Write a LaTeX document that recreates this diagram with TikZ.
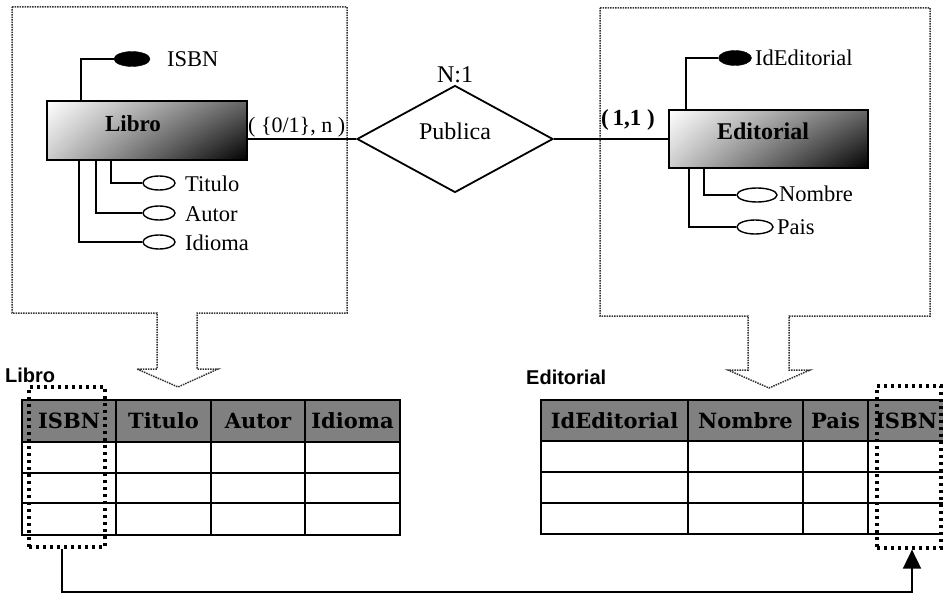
\documentclass[tikz,border=0pt]{standalone}
\usepackage{fontspec}
\setmainfont{Liberation Serif}
\setsansfont{Liberation Sans}
\newfontfamily\hdrfont{DejaVu Serif}
\usetikzlibrary{shapes.geometric,arrows.meta,shadings}
\tikzset{
  solidln/.style={line width=1.8pt},
  container/.style={line width=1.5pt, dash pattern=on 1.5pt off 1pt, black!80},
  entity/.style={draw, line width=1.8pt, shade, upper left=white, upper right=black!60,
                 lower left=black!20, lower right=black, inner sep=0pt},
  entlabel/.style={font=\fontsize{23}{23}\selectfont\bfseries, inner sep=0pt},
  keyattr/.style={ellipse, draw, fill=black, minimum width=36pt, minimum height=15pt, inner sep=0pt},
  attr/.style={ellipse, draw, line width=1.4pt, minimum width=32pt, minimum height=14pt, inner sep=0pt},
  attrtxt/.style={anchor=west, font=\fontsize{22.5}{22.5}\selectfont, inner sep=0pt},
  hdr/.style={draw, line width=1.8pt, fill=black!50, inner sep=0pt,
              font=\hdrfont\fontsize{21}{21}\selectfont\bfseries},
  tlabel/.style={font=\sffamily\fontsize{20}{20}\selectfont\bfseries, anchor=base west, inner sep=0pt},
  fkbox/.style={line width=3.2pt, dash pattern=on 3pt off 4pt, inner sep=0pt},
}
\begin{document}
\begin{tikzpicture}[x=1pt,y=-1pt]
\useasboundingbox (0,0) rectangle (943,594);
\begin{scope}
\clip (0,0) rectangle (943,594);

% containers with down arrows
\draw[container] (12,7) -- (347,7) -- (347,313) -- (197,313) -- (197,369) -- (218,369)
  -- (178,387) -- (137,369) -- (157,369) -- (157,313) -- (12,313) -- cycle;
\draw[container] (600,8) -- (930,8) -- (930,316) -- (789,316) -- (789,370) -- (810,370)
  -- (769,388) -- (728,370) -- (748,370) -- (748,316) -- (600,316) -- cycle;

% Libro entity
\node[entity, minimum width=200pt, minimum height=59pt] (libro) at (147,130.5) {};
\node[entlabel] (libroT) at (133,124) {Libro};
\node[keyattr] (isbnE) at (132,59) {};
\node[attrtxt] (isbnL) at (167,59) {ISBN};
\node[attr] (titE) at (159,183) {};
\node[attrtxt] (titL) at (185,184) {Titulo};
\node[attr] (autE) at (159,213) {};
\node[attrtxt] (autL) at (185,214) {Autor};
\node[attr] (idiE) at (159,242) {};
\node[attrtxt] (idiL) at (185,243) {Idioma};
\draw[solidln] ([xshift=35pt]libro.north west) |- (isbnE.west);
\draw[solidln] ([xshift=65pt]libro.south west) |- (titE.west);
\draw[solidln] ([xshift=50pt]libro.south west) |- (autE.west);
\draw[solidln] ([xshift=33pt]libro.south west) |- (idiE.west);

% relationship
\node[diamond, draw, line width=1.8pt, minimum width=196pt, minimum height=107pt, inner sep=0pt] (pub) at (455,139) {};
\node[font=\fontsize{24}{24}\selectfont, inner sep=0pt] (pubT) at (455,131) {Publica};
\node[font=\fontsize{24}{24}\selectfont, inner sep=0pt] (card) at (455,75) {N:1};
\node[font=\fontsize{22}{22}\selectfont, inner sep=0pt, anchor=west] (c1) at (248,127) {( \{0/1\}, n )};
\node[font=\fontsize{23}{23}\selectfont\bfseries, inner sep=0pt, anchor=west] (c2) at (601,120) {(\,1,1 )};

% Editorial entity
\node[entity, minimum width=199pt, minimum height=58pt] (edit) at (768.5,139) {};
\node[entlabel, font=\fontsize{24}{24}\selectfont\bfseries] (editT) at (763,131) {Editorial};
\node[keyattr, minimum width=33pt] (idE) at (735,58) {};
\node[attrtxt] (idL) at (755,58) {IdEditorial};
\node[attr, minimum width=40pt] (nomE) at (757,195) {};
\node[attrtxt] (nomL) at (779,194) {Nombre};
\node[attr, minimum width=36pt] (paiE) at (755,227) {};
\node[attrtxt] (paiL) at (777,227) {Pais};
\draw[solidln] ([xshift=18pt]edit.north west) |- (idE.west);
\draw[solidln] ([xshift=36pt]edit.south west) |- (nomE.west);
\draw[solidln] ([xshift=21pt]edit.south west) |- (paiE.west);

\draw[solidln] (libro.east |- pub.west) -- (pub.west);
\draw[solidln] (pub.east) -- (edit.west |- pub.east);

% Libro table
\node[tlabel] (tl1) at (5,382) {Libro};
\node[hdr, minimum width=94pt, minimum height=42pt] (h11) at (69,421) {ISBN};
\node[hdr, minimum width=95pt, minimum height=42pt] (h12) at (163.5,421) {Titulo};
\node[hdr, minimum width=94pt, minimum height=42pt] (h13) at (258,421) {Autor};
\node[hdr, minimum width=95pt, minimum height=42pt] (h14) at (352.5,421) {Idioma};
\draw[solidln] (22,442) rectangle (400,535);
\draw[solidln] (22,473) -- (400,473) (22,503) -- (400,503);
\draw[solidln] (116,442) -- (116,535) (211,442) -- (211,535) (305,442) -- (305,535);

% Editorial table
\node[tlabel] (tl2) at (526,384) {Editorial};
\node[hdr, minimum width=147pt, minimum height=41pt] (h21) at (614.5,420.5) {IdEditorial};
\node[hdr, minimum width=115pt, minimum height=41pt] (h22) at (745.5,420.5) {Nombre};
\node[hdr, minimum width=65pt, minimum height=41pt] (h23) at (835.5,420.5) {Pais};
\node[hdr, minimum width=76pt, minimum height=41pt] (h24) at (906,420.5) {ISBN};
\draw[solidln] (541,441) rectangle (944,534);
\draw[solidln] (541,472) -- (944,472) (541,503) -- (944,503);
\draw[solidln] (688,441) -- (688,534) (803,441) -- (803,534) (868,441) -- (868,534);

% foreign key boxes and link
\node[fkbox, draw, minimum width=76pt, minimum height=160pt] (fkA) at (67,467) {};
\node[fkbox, draw, minimum width=64pt, minimum height=162pt] (fkB) at (909,467) {};
\draw[solidln, -{Triangle[width=18pt,length=19pt]}] ([xshift=-5pt]fkA.south) -- ++(0,43) -| ([xshift=3pt]fkB.south);
\end{scope}
\end{tikzpicture}
\end{document}
